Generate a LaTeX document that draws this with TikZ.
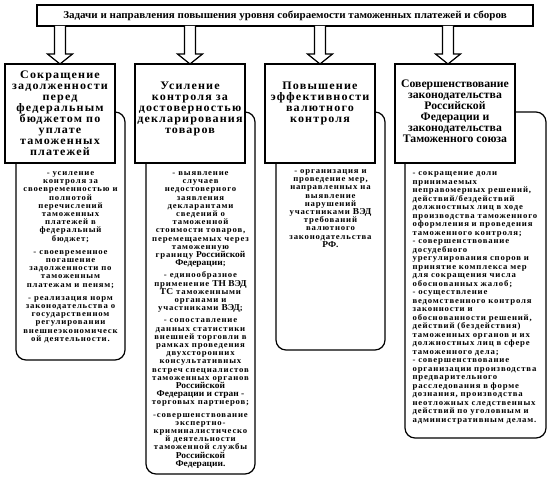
\documentclass[tikz,border=0pt]{standalone}
\usepackage{fontspec}
\setmainfont{Liberation Serif}
\newfontfamily\spacedfont{Liberation Serif}[FakeStretch=1.05,LetterSpace=10]
\newfontfamily\lawfont{Liberation Serif}[FakeStretch=1.02]
\newfontfamily\plainfont{Liberation Serif}[FakeStretch=1.05]
\newcommand\bigtx[1]{{\plainfont\fontsize{9}{8.2}\selectfont #1}}
\newcommand\jl[1]{\makebox[\linewidth][s]{#1}}
\newcommand\tightlines{\lineskiplimit=-9pt\relax\lineskip=0pt\relax}
\begin{document}
\begin{tikzpicture}[x=1pt,y=-1pt,line width=1.2pt,
  headbox/.style={draw,fill=white},
  listbox/.style={draw,fill=white,rounded corners=10pt},
  headtext/.style={font=\spacedfont\bfseries\fontsize{11.5}{11}\selectfont,align=center,anchor=north,inner sep=0pt},
  listtext/.style={font=\spacedfont\bfseries\fontsize{8.3}{8.2}\selectfont\tightlines,align=center,anchor=north,inner sep=0pt}]
  \useasboundingbox (0,0) rectangle (550,494);
  % title
  \draw[headbox] (37,5) rectangle (533,26);
  \node[inner sep=0pt,font=\plainfont\bfseries\fontsize{10.5}{12}\selectfont] (title) at (285,15.5)
    {Задачи и направления повышения уровня собираемости таможенных платежей и сборов};
  % hollow arrows
  \foreach \cx in {60,190,320,448}
    \draw[fill=white] (\cx-5.5,26) -- (\cx-5.5,54) -- (\cx-12.5,54) -- (\cx,64)
      -- (\cx+12.5,54) -- (\cx+5.5,54) -- (\cx+5.5,26);
  % lower boxes
  \draw[listbox] (16,112) rectangle (125,360);
  \draw[listbox] (146,112) rectangle (255,474);
  \draw[listbox] (276,112) rectangle (385,350);
  \draw[listbox] (405,112) rectangle (546,438);
  % upper boxes
  \draw[headbox] (5,64) rectangle (115,163);
  \draw[headbox] (135,64) rectangle (245,163);
  \draw[headbox] (265,64) rectangle (375,163);
  \draw[headbox] (395,64) rectangle (515,163);
  % headings
  \node[headtext] (debt) at (60,70) {Сокращение\\задолженности\\перед\\федеральным\\бюджетом по\\уплате\\таможенных\\платежей};
  \node[headtext] (decl) at (190,81) {Усиление\\контроля за\\достоверностью\\декларирования\\товаров};
  \node[headtext] (curr) at (320,81) {Повышение\\эффективности\\валютного\\контроля};
  \node[headtext,font=\lawfont\bfseries\fontsize{11.5}{11}\selectfont] (law) at (455,79)
    {Совершенствование\\законодательства\\Российской\\Федерации и\\законодательства\\Таможенного союза};
  % lists
  \node[listtext] (debtlist) at (70.5,171) {- усиление\\контроля за\\своевременностью и\\полнотой\\перечислений\\таможенных\\платежей в\\федеральный\\бюджет;\\[5pt]
    - своевременное\\погашение\\задолженности по\\таможенным\\платежам и пеням;\\[5pt]
    - реализация норм\\законодательства о\\государственном\\регулировании\\внешнеэкономическ\\ой деятельности.};
  \node[listtext] (decllist) at (200.5,171) {- выявление\\случаев\\недостоверного\\заявления\\декларантами\\сведений о\\таможенной\\стоимости товаров,\\перемещаемых через\\таможенную\\границу \bigtx{Российской}\\\bigtx{Федерации};\\[4pt]
    - единообразное\\применение \bigtx{ТН ВЭД}\\\bigtx{ТС} таможенными\\органами и\\участниками \bigtx{ВЭД};\\[4pt]
    - сопоставление\\данных статистики\\внешней торговли в\\рамках проведения\\двухсторонних\\консультативных\\встреч специалистов\\таможенных органов\\\bigtx{Российской}\\\bigtx{Федерации и стран -}\\торговых партнеров;\\[4pt]
    -совершенствование\\экспертно-\\криминалистическо\\й деятельности\\таможенной службы\\\bigtx{Российской}\\\bigtx{Федерации.}};
  \node[listtext] (currlist) at (330.5,169) {- организация и\\проведение мер,\\направленных на\\выявление\\нарушений\\участниками \bigtx{ВЭД}\\требований\\валютного\\законодательства\\\bigtx{РФ.}};
  \node[listtext,anchor=north west,align=left,text width=128,font=\spacedfont\bfseries\fontsize{8.3}{8.5}\selectfont\tightlines] (lawlist) at (412,171)
    {\jl{- сокращение доли}\\принимаемых\\\jl{неправомерных решений,}\\действий/бездействий\\\jl{должностных лиц в ходе}\\\jl{производства таможенного}\\\jl{оформления и проведения}\\таможенного контроля;\\
    - совершенствование\\досудебного\\\jl{урегулирования споров и}\\\jl{принятие комплекса мер}\\\jl{для сокращения числа}\\обоснованных жалоб;\\
    - осуществление\\\jl{ведомственного контроля}\\\jl{законности и}\\\jl{обоснованности решений,}\\\jl{действий (бездействия)}\\\jl{таможенных органов и их}\\\jl{должностных лиц в сфере}\\таможенного дела;\\
    - совершенствование\\\jl{организации производства}\\предварительного\\\jl{расследования в форме}\\\jl{дознания, производства}\\\jl{неотложных следственных}\\\jl{действий по уголовным и}\\административным делам.};
\end{tikzpicture}
\end{document}
